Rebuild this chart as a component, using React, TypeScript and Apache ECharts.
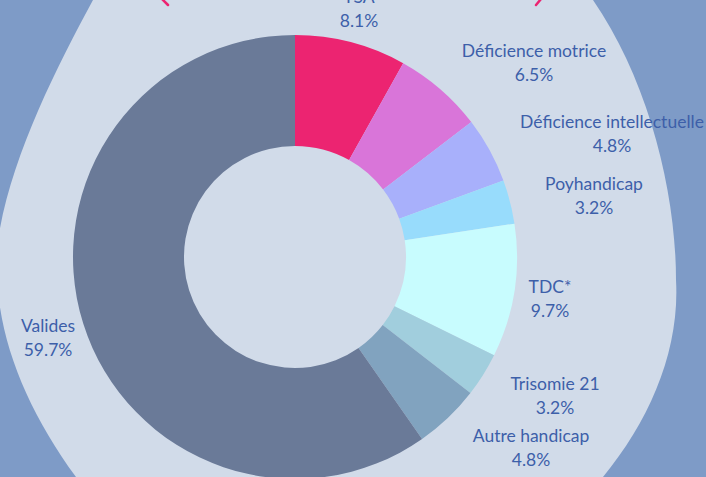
import React, { useEffect, useRef } from "react";
import * as echarts from "echarts";

const categories = [
  "TSA",
  "Déficience motrice",
  "Déficience intellectuelle",
  "Poyhandicap",
  "TDC*",
  "Trisomie 21",
  "Autre handicap",
  "Valides",
];
const values = [8.1, 6.5, 4.8, 3.2, 9.7, 3.2, 4.8, 59.7];
const colors = [
  "#ec2471",
  "#d975d9",
  "#a8b0fb",
  "#98dcfc",
  "#c8fcfe",
  "#a1cedd",
  "#81a3bf",
  "#6a7a98",
];
// label anchor offsets from the donut centre (layout only)
const labelOffsets: [number, number][] = [
  [64, -249],
  [239, -195],
  [317, -124],
  [299, -62],
  [255, 41],
  [260, 138],
  [236, 190],
  [-247, 80],
];

const CX = 295;
const CY = 257;
const BLOB =
  "M 93 0 C 55 70 10 160 -2 240 C -10 320 20 400 76 477 L 603 477 C 650 420 680 350 676 280 C 676 190 648 80 593 0 Z";

let registered = false;

export default function App() {
  const ref = useRef<HTMLDivElement>(null);
  useEffect(() => {
    document.body.style.margin = "0";
    if (!registered) {
      echarts.graphic.registerShape("blob", echarts.graphic.extendPath(BLOB, {}));
      registered = true;
    }
    const chart = echarts.init(ref.current!, undefined, { renderer: "svg" });
    chart.setOption({
      animation: false,
      backgroundColor: "#7e9bc7",
      graphic: [
        { type: "blob", z: -10, style: { fill: "#d1dbe9" } },
        {
          type: "line",
          z: -5,
          shape: { x1: 162, y1: -1, x2: 168, y2: 5 },
          style: { stroke: "#ec2471", lineWidth: 2.5, lineCap: "round" },
        },
        {
          type: "line",
          z: -5,
          shape: { x1: 541, y1: -1, x2: 536, y2: 5 },
          style: { stroke: "#ec2471", lineWidth: 2.5, lineCap: "round" },
        },
      ],
      series: [
        {
          type: "pie",
          center: [CX, CY],
          radius: [111, 222],
          startAngle: 90,
          clockwise: true,
          avoidLabelOverlap: false,
          itemStyle: { borderWidth: 0 },
          emphasis: { disabled: true },
          label: {
            show: true,
            position: "outside",
            formatter: "{b}\n{c}%",
            color: "#3d5fa9",
            fontFamily: "Lato",
            fontSize: 17.5,
            lineHeight: 24,
            align: "center",
          },
          labelLine: { show: false },
          labelLayout: (p: any) => {
            const o = labelOffsets[p.dataIndex];
            return {
              x: CX + o[0],
              y: CY + o[1],
              align: "center",
              verticalAlign: "middle",
            };
          },
          data: categories.map((name, i) => ({
            name,
            value: values[i],
            itemStyle: { color: colors[i] },
          })),
        },
      ],
    });
    return () => chart.dispose();
  }, []);
  return <div ref={ref} style={{ width: 706, height: 477 }} />;
}
